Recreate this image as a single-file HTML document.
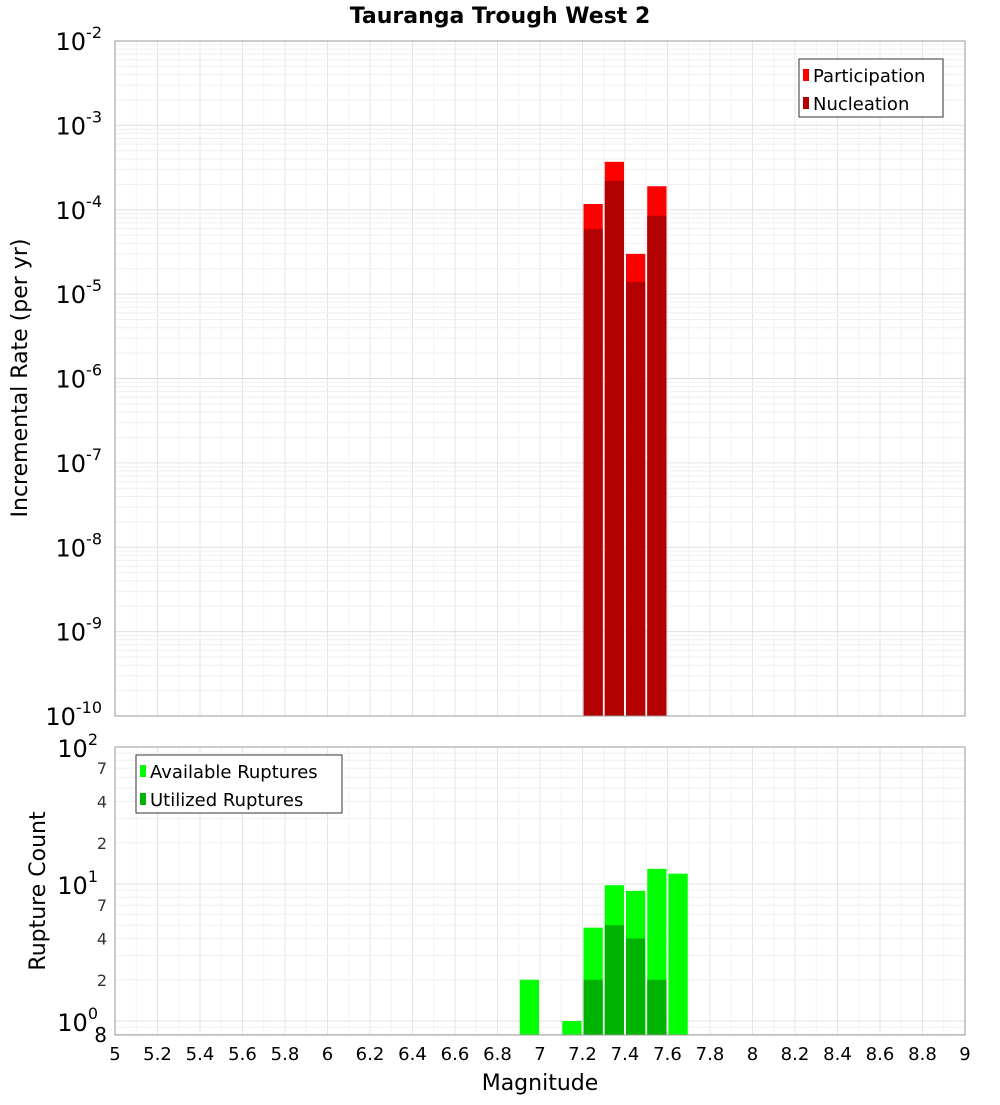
<!DOCTYPE html>
<html><head><meta charset="utf-8"><style>
body{margin:0;background:#fff;font-family:"Liberation Sans","DejaVu Sans",sans-serif}
svg text{font-family:"DejaVu Sans","Liberation Sans",sans-serif}
</style></head><body>
<svg id="c" width="1000" height="1100" xmlns="http://www.w3.org/2000/svg"></svg>
<script>
const mags=[7.25,7.35,7.45,7.55];
const participation=[1.17e-4,3.7e-4,3.0e-5,1.9e-4];
const nucleation=[5.9e-5,2.2e-4,1.4e-5,8.5e-5];
const countMags=[6.95,7.15,7.25,7.35,7.45,7.55,7.65];
const available=[2,1,4.8,9.8,8.9,12.9,11.9];
const utilized=[0,0,2,5,4,2,0];
const xTicks=[5,5.2,5.4,5.6,5.8,6,6.2,6.4,6.6,6.8,7,7.2,7.4,7.6,7.8,8,8.2,8.4,8.6,8.8,9];
const topExps=[-2,-3,-4,-5,-6,-7,-8,-9,-10];

const S=document.getElementById('c');const NS='http://www.w3.org/2000/svg';
function el(t,a,txt){const e=document.createElementNS(NS,t);for(const k in a)e.setAttribute(k,a[k]);if(txt!==undefined)e.textContent=txt;S.appendChild(e);return e;}
const X0=115,X1=965;const x=m=>X0+(m-5)/4*(X1-X0);
const T0=41,T1=716;const yT=v=>T0+(-2-Math.log10(v))*(T1-T0)/8;
const B0=747,B1=1035,BD=137;const yB=v=>B0+(2-Math.log10(v))*BD;

// title
let t=el('text',{x:500,y:23,'text-anchor':'middle','font-size':22,'font-weight':'bold'},'Tauranga Trough West 2');


// plot frames
for(const [a,b,n] of [[T0,T1,'top-plot-area'],[B0,B1,'bottom-plot-area']]){
 const r=el('rect',{x:X0,y:a,width:X1-X0,height:b-a,fill:'#fff'});
 
}
// vertical grid
for(let m=5;m<=9.001;m+=0.1){const xx=x(m);
 const major=Math.abs(m*5-Math.round(m*5))<0.01;
 const g1=el('line',{x1:xx,x2:xx,y1:T0,y2:T1,stroke:major?'#e4e4e4':'#f2f2f2'});
 const g2=el('line',{x1:xx,x2:xx,y1:B0,y2:B1,stroke:major?'#e4e4e4':'#f2f2f2'});
}
// horizontal grid top
for(let e=-10;e<-2;e++)for(let k=1;k<10;k++){const yy=yT(k*Math.pow(10,e));
 const g=el('line',{x1:X0,x2:X1,y1:yy,y2:yy,stroke:k==1?'#e0e0e0':'#efefef'});}
for(let e=-1;e<2;e++)for(let k=1;k<10;k++){const yy=yB(k*Math.pow(10,e));if(yy>B1||yy<B0)continue;
 const g=el('line',{x1:X0,x2:X1,y1:yy,y2:yy,stroke:k==1?'#e0e0e0':'#efefef'});}

// top bars
const w=(x(5.1)-x(5));
mags.forEach((m,i)=>{
 let r=el('rect',{x:x(m)-w/2+1,y:yT(participation[i]),width:w-2,height:T1-yT(participation[i]),fill:'#ff0000'});
 
 r=el('rect',{x:x(m)-w/2+1,y:yT(nucleation[i]),width:w-2,height:T1-yT(nucleation[i]),fill:'#b30000'});
 
});
// bottom bars
countMags.forEach((m,i)=>{
 let r=el('rect',{x:x(m)-w/2+1,y:yB(available[i]),width:w-2,height:B1-yB(available[i]),fill:'#00ff00'});
 
 if(utilized[i]>0){r=el('rect',{x:x(m)-w/2+1,y:yB(utilized[i]),width:w-2,height:B1-yB(utilized[i]),fill:'#00b300'});
 }
});
// frame borders
for(const [a,b] of [[T0,T1],[B0,B1]]){const r=el('rect',{x:X0,y:a,width:X1-X0,height:b-a,fill:'none',stroke:'#999'});}

// top y labels
topExps.forEach(e=>{const yy=yT(Math.pow(10,e));
 const tx=el('text',{x:102,y:yy+9,'text-anchor':'end','font-size':24});
 tx.innerHTML='10<tspan dy="-12" font-size="16">'+e+'</tspan>';});
// bottom y labels
[[100,'2'],[10,'1'],[1,'0']].forEach(([v,e])=>{const yy=yB(v);
 const tx=el('text',{x:98,y:yy+10,'text-anchor':'end','font-size':24});
 tx.innerHTML='10<tspan dy="-12" font-size="16">'+e+'</tspan>';});
[[70,'7'],[40,'4'],[20,'2'],[7,'7'],[4,'4'],[2,'2']].forEach(([v,s])=>{
 const tx=el('text',{x:107,y:yB(v)+6,'text-anchor':'end','font-size':16,fill:'#333'},s);});
t=el('text',{x:107,y:1042,'text-anchor':'end','font-size':20},'8');
// x labels
xTicks.forEach(m=>{const tx=el('text',{x:x(m),y:1060,'text-anchor':'middle','font-size':18},String(m));});
t=el('text',{x:540,y:1090,'text-anchor':'middle','font-size':22},'Magnitude');
t=el('text',{x:27,y:378,'text-anchor':'middle','font-size':22,transform:'rotate(-90 27 378)'},'Incremental Rate (per yr)');
t=el('text',{x:45,y:891,'text-anchor':'middle','font-size':22,transform:'rotate(-90 45 891)'},'Rupture Count');

// legends
function legend(x0,y0,wd,items,nm){const r=el('rect',{x:x0,y:y0,width:wd,height:58,fill:'#fff',stroke:'#333'});
 items.forEach(([c,s],i)=>{const q=el('rect',{x:x0+4,y:y0+10+i*28,width:6,height:12,fill:c});
 const tx=el('text',{x:x0+14,y:y0+23+i*28,'font-size':18},s);});}
legend(799,59,144,[['#ff0000','Participation'],['#b30000','Nucleation']],'top-legend');
legend(136,755,206,[['#00ff00','Available Ruptures'],['#00b300','Utilized Ruptures']],'bottom-legend');
</script>
</body></html>
